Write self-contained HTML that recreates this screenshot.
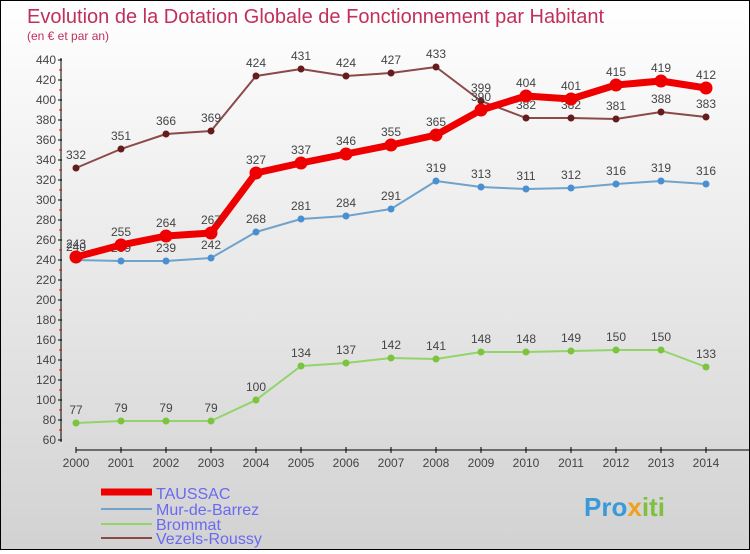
<!DOCTYPE html>
<html><head><meta charset="utf-8"><style>
html,body{margin:0;padding:0}
body{width:750px;height:550px;overflow:hidden;font-family:"Liberation Sans","DejaVu Sans",sans-serif}
#c{position:absolute;left:0;top:0;width:748px;height:548px;border:1px solid #000;background:linear-gradient(#ffffff,#d2d2d2)}
</style></head><body>
<div id="c">
<svg id="s" width="748" height="548" xmlns="http://www.w3.org/2000/svg">
<text x="26" y="22" font-size="20" fill="#c0305a">Evolution de la Dotation Globale de Fonctionnement par Habitant</text>
<text x="26" y="39" font-size="12" fill="#c0305a">(en € et par an)</text>
<g id="axes"></g><g id="series"></g>
<g>
<line x1="100" y1="491" x2="151" y2="491" stroke="#e00" stroke-width="7"/>
<text x="155" y="498" font-size="16" fill="#6a6af0">TAUSSAC</text>
<line x1="100" y1="508" x2="151" y2="508" stroke="#6fa3cc" stroke-width="2"/>
<text x="155" y="514" font-size="16" fill="#6a6af0">Mur-de-Barrez</text>
<line x1="100" y1="523" x2="151" y2="523" stroke="#93d46a" stroke-width="2"/>
<text x="155" y="529" font-size="16" fill="#6a6af0">Brommat</text>
<line x1="100" y1="537" x2="151" y2="537" stroke="#8b4a4a" stroke-width="2"/>
<text x="155" y="543" font-size="16" fill="#6a6af0">Vezels-Roussy</text>
</g>
<text x="583" y="515" font-size="26" font-weight="bold" fill="#3a9ad9">Pro<tspan fill="#f0a020">x</tspan><tspan fill="#7fc040">iti</tspan></text>
</svg></div>
<script>
const years=[2000,2001,2002,2003,2004,2005,2006,2007,2008,2009,2010,2011,2012,2013,2014];
const taussac=[243,255,264,267,327,337,346,355,365,390,404,401,415,419,412];
const mur=[240,239,239,242,268,281,284,291,319,313,311,312,316,319,316];
const brommat=[77,79,79,79,100,134,137,142,141,148,148,149,150,150,133];
const vezels=[332,351,366,369,424,431,424,427,433,399,382,382,381,388,383];
const yTicks=[60,80,100,120,140,160,180,200,220,240,260,280,300,320,340,360,380,400,420,440];
const NS="http://www.w3.org/2000/svg";
function X(i){return 75+i*45;}
function Y(v){return 499-(v-60)*(439-59)/380-0*v;}
function Yv(v){return 439-(v-60);}
function mk(p,t,a){const e=document.createElementNS(NS,t);for(const k in a)e.setAttribute(k,a[k]);p.appendChild(e);return e;}
const ax=document.getElementById('axes'),se=document.getElementById('series');
let yl=mk(ax,'line',{x1:60,y1:Yv(440)-2,x2:60,y2:Yv(60)+2,stroke:'#000'});


yTicks.forEach(v=>{
 let t=mk(ax,'line',{x1:57,y1:Yv(v),x2:61,y2:Yv(v),stroke:'#000'});
 
 
 if(v<440){let m=mk(ax,'line',{x1:58,y1:Yv(v+10),x2:61,y2:Yv(v+10),stroke:'#e00'});
 
 }
 let l=mk(ax,'text',{x:55,y:Yv(v)+4,'font-size':12,fill:'#444','text-anchor':'end'});l.textContent=v;
 
 
});
let xl=mk(ax,'line',{x1:75,y1:449,x2:748,y2:449,stroke:'#000'});


years.forEach((y,i)=>{
 let t=mk(ax,'line',{x1:X(i),y1:446,x2:X(i),y2:452,stroke:'#000'});
 
 
 let l=mk(ax,'text',{x:X(i),y:466,'font-size':12,fill:'#444','text-anchor':'middle'});l.textContent=y;
 
 
});
function series(d,name,col,dot,w,r){
 const g=mk(se,'g',{});
 
 
 let pl=mk(g,'polyline',{points:d.map((v,i)=>X(i)+','+Yv(v)).join(' '),fill:'none',stroke:col,'stroke-width':w,'stroke-linejoin':'round'});
 
 
 d.forEach((v,i)=>{
  let c=mk(g,'circle',{cx:X(i),cy:Yv(v),r:r,fill:dot});
  
  
  let t=mk(g,'text',{x:X(i),y:Yv(v)-9,'font-size':12,fill:'#444','text-anchor':'middle'});t.textContent=v;
  
  
 });
}
series(brommat,'brommat','#93d46a','#7cc440',2,3.5);
series(mur,'mur-de-barrez','#6fa3cc','#4a90d0',2,3.5);
series(vezels,'vezels-roussy','#8b4a4a','#661c1c',2,3.5);
series(taussac,'taussac','#ee0000','#ee0000',7,6.5);
</script>
</body></html>
